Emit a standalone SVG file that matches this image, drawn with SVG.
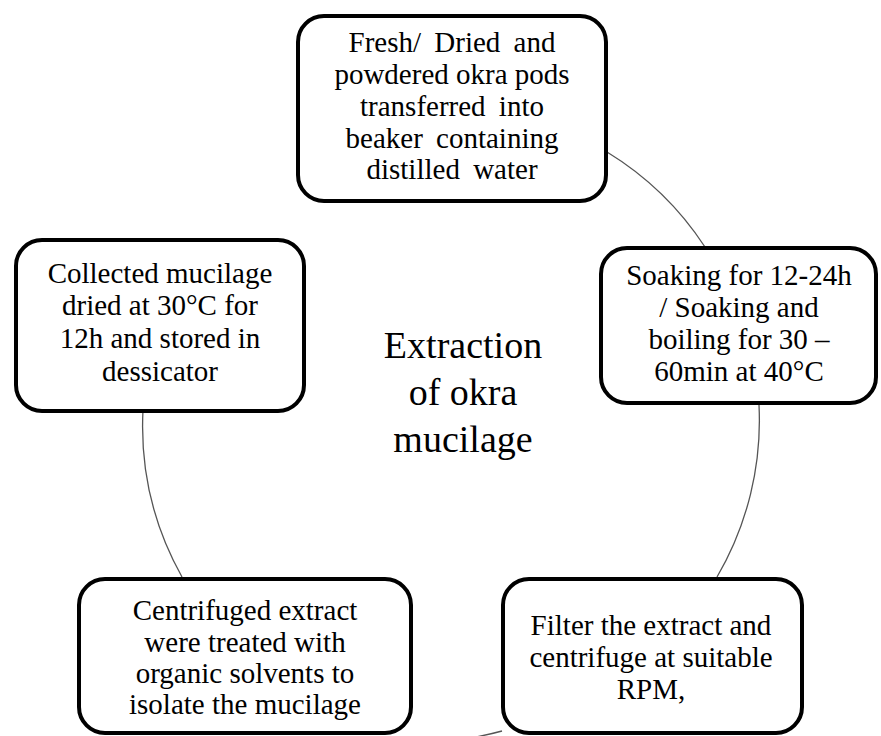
<svg xmlns="http://www.w3.org/2000/svg" width="881" height="736" viewBox="0 0 881 736">
<style>
.box{fill:#fff;stroke:#000;stroke-width:4}
.t{font-family:'Liberation Serif','Times New Roman',Times,'DejaVu Serif','Noto Serif',serif;font-size:29px;fill:#000;text-anchor:middle}
.title{font-family:'Liberation Serif','Times New Roman',Times,'DejaVu Serif','Noto Serif',serif;font-size:38px;fill:#000;text-anchor:middle}
.conn{fill:none;stroke:#555;stroke-width:1.3}
</style>
<rect width="881" height="736" fill="#fff"/>
<g id="connectors">
<path class="conn" d="M607,152 A310,310 0 0 1 705,247"/>
<path class="conn" d="M759,405 A310,310 0 0 1 717,577"/>
<path class="conn" d="M502,731 A310,310 0 0 1 412,742"/>
<path class="conn" d="M182,577 A310,310 0 0 1 143,410"/>
</g>
<g id="node-fresh">
<rect class="box" x="298" y="16" width="308" height="185" rx="26"/>
<text class="t" x="452" y="52" word-spacing="6">Fresh/ Dried and</text>
<text class="t" x="452" y="84">powdered okra pods</text>
<text class="t" x="452" y="116" word-spacing="6">transferred into</text>
<text class="t" x="452" y="148" word-spacing="6">beaker containing</text>
<text class="t" x="452" y="179" word-spacing="6">distilled water</text>
</g>
<g id="node-soaking">
<rect class="box" x="601" y="248" width="275" height="155" rx="26"/>
<text class="t" x="739" y="285">Soaking for 12-24h</text>
<text class="t" x="739" y="317">/ Soaking and</text>
<text class="t" x="739" y="349">boiling for 30 –</text>
<text class="t" x="739" y="381">60min at 40°C</text>
</g>
<g id="node-filter">
<rect class="box" x="503" y="579" width="299" height="154" rx="26"/>
<text class="t" x="651" y="635">Filter the extract and</text>
<text class="t" x="651" y="667">centrifuge at suitable</text>
<text class="t" x="651" y="699">RPM,</text>
</g>
<g id="node-centrifuged">
<rect class="box" x="79" y="579" width="332" height="154" rx="26"/>
<text class="t" x="245" y="620">Centrifuged extract</text>
<text class="t" x="245" y="652">were treated with</text>
<text class="t" x="245" y="683">organic solvents to</text>
<text class="t" x="245" y="714">isolate the mucilage</text>
</g>
<g id="node-collected">
<rect class="box" x="16" y="240" width="288" height="171" rx="26"/>
<text class="t" x="160" y="283">Collected mucilage</text>
<text class="t" x="160" y="315">dried at 30°C for</text>
<text class="t" x="160" y="348">12h and stored in</text>
<text class="t" x="160" y="381">dessicator</text>
</g>
<g id="title">
<text class="title" x="463" y="358">Extraction</text>
<text class="title" x="463" y="405">of okra</text>
<text class="title" x="463" y="452">mucilage</text>
</g>
</svg>
